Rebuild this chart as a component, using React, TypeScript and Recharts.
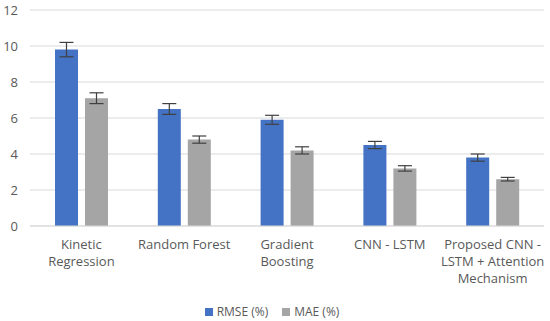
import React from "react";
import { BarChart, Bar, XAxis, YAxis, CartesianGrid, Legend, ErrorBar } from "recharts";

const categories = [
  "Kinetic Regression",
  "Random Forest",
  "Gradient Boosting",
  "CNN - LSTM",
  "Proposed CNN - LSTM + Attention Mechanism",
];
const rmse = [9.8, 6.5, 5.9, 4.5, 3.8];
const rmseErr = [0.4, 0.3, 0.25, 0.2, 0.2];
const mae = [7.1, 4.8, 4.2, 3.2, 2.6];
const maeErr = [0.3, 0.2, 0.2, 0.15, 0.1];
const yTicks = [0, 2, 4, 6, 8, 10, 12];
const seriesNames = ["RMSE (%)", "MAE (%)"];
const seriesColors = ["#4472C4", "#A5A5A5"];

const data = categories.map((c, i) => ({
  name: c,
  rmse: rmse[i],
  rmseErr: rmseErr[i],
  mae: mae[i],
  maeErr: maeErr[i],
}));

const FONT = "Open Sans, Lato, sans-serif";
const TEXT = "#595959";

function wrap(s: string, max: number): string[] {
  const words = s.split(" ");
  const lines: string[] = [];
  let cur = "";
  for (const w of words) {
    const next = cur ? cur + " " + w : w;
    if (next.length > max && cur) {
      lines.push(cur);
      cur = w;
    } else cur = next;
  }
  if (cur) lines.push(cur);
  return lines;
}

const XTick = (props: any) => {
  const { x, y, payload } = props;
  const lines = wrap(payload.value, 16);
  return (
    <text x={x} y={y} textAnchor="middle" fill={TEXT} fontSize={13} fontFamily={FONT}>
      {lines.map((l, i) => (
        <tspan key={i} x={x} dy={i === 0 ? 15 : 17}>
          {l}
        </tspan>
      ))}
    </text>
  );
};

const LegendContent = () => (
  <div style={{ display: "flex", justifyContent: "center", gap: 14, fontFamily: FONT, fontSize: 12, color: TEXT }}>
    {seriesNames.map((n, i) => (
      <span key={n} style={{ display: "flex", alignItems: "center" }}>
        <span style={{ display: "inline-block", width: 8, height: 8, background: seriesColors[i], marginRight: 4 }} />
        {n}
      </span>
    ))}
  </div>
);

export default function App() {
  return (
    <div style={{ position: "absolute", left: 0, top: 0, width: 550, height: 321, background: "#fff" }}>
      <BarChart
        width={550}
        height={321}
        data={data}
        margin={{ top: 10, right: 6, left: 0, bottom: 0 }}
        barGap={7}
        barCategoryGap={25}
      >
        <CartesianGrid vertical={false} stroke="#d9d9d9" />
        <XAxis
          dataKey="name"
          tick={<XTick />}
          tickLine={false}
          axisLine={{ stroke: "#d9d9d9" }}
          interval={0}
          height={77}
        />
        <YAxis
          domain={[0, 12]}
          ticks={yTicks}
          width={30}
          tickLine={false}
          axisLine={false}
          tick={{ fill: TEXT, fontSize: 13, fontFamily: FONT }}
          tickMargin={6}
        />
        <Legend verticalAlign="bottom" height={18} content={<LegendContent />} />
        <Bar dataKey="rmse" name={seriesNames[0]} fill={seriesColors[0]} isAnimationActive={false}>
          <ErrorBar dataKey="rmseErr" width={7} stroke="#404040" strokeWidth={1.2} />
        </Bar>
        <Bar dataKey="mae" name={seriesNames[1]} fill={seriesColors[1]} isAnimationActive={false}>
          <ErrorBar dataKey="maeErr" width={7} stroke="#404040" strokeWidth={1.2} />
        </Bar>
      </BarChart>
    </div>
  );
}
